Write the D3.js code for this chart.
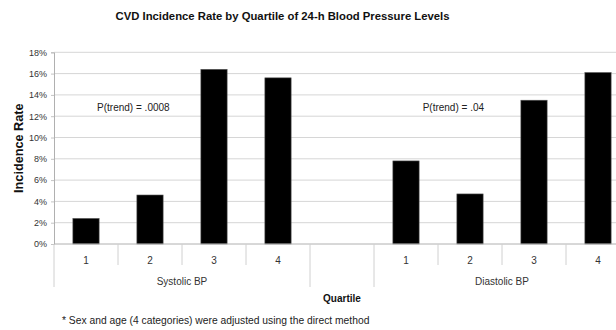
<!DOCTYPE html>
<html>
<head>
<meta charset="utf-8">
<script src="https://cdn.jsdelivr.net/npm/d3@7"></script>
<style>
  html, body { margin: 0; padding: 0; background: #fff; }
  svg { display: block; font-family: "Liberation Sans", Arial, sans-serif; }
</style>
</head>
<body>
<svg id="chart" width="616" height="330"></svg>
<script>
// Incidence rate (%) by quartile, per blood-pressure measure
const quartiles = ["1", "2", "3", "4"];
const groups = ["Systolic BP", "", "Diastolic BP"];
const systolic = [2.4, 4.6, 16.4, 15.6];
const diastolic = [7.8, 4.7, 13.5, 16.1];
const yTicks = [0, 2, 4, 6, 8, 10, 12, 14, 16, 18];
const trendLabels = ["P(trend) = .0008", "", "P(trend) = .04"];

const title = "CVD Incidence Rate by Quartile of 24-h Blood Pressure Levels";
const yTitle = "Incidence Rate";
const xTitle = "Quartile";
const footnote = "* Sex and age (4 categories) were adjusted using the direct method";

const svg = d3.select("#chart");
const plot = { left: 54, right: 630, top: 52.3, bottom: 244 };

// one slot per quartile, plus an empty spacer slot between the two measures
const slots = [];
groups.forEach((g, gi) => {
  if (g === "") slots.push({ key: "gap", group: gi, q: null, v: null });
  else {
    const vals = gi === 0 ? systolic : diastolic;
    quartiles.forEach((q, i) => slots.push({ key: g + "-" + q, group: gi, q, v: vals[i] }));
  }
});

const x = d3.scaleBand().domain(slots.map(d => d.key)).range([plot.left, plot.right]).padding(0);
const y = d3.scaleLinear().domain([0, 18]).range([plot.bottom, plot.top]);

// grid lines
svg.append("g")
  .selectAll("line").data(yTicks.slice(1)).join("line")
  .attr("x1", plot.left).attr("x2", 616)
  .attr("y1", d => y(d)).attr("y2", d => y(d))
  .attr("stroke", "#d6d6d6").attr("stroke-width", 1);

// y axis
const yAxis = svg.append("g").attr("transform", `translate(${plot.left},0)`)
  .call(d3.axisLeft(y).tickValues(yTicks).tickFormat(d => d + "%").tickSize(3).tickPadding(4));
yAxis.select(".domain").attr("stroke", "#b0b0b0");
yAxis.selectAll(".tick line").attr("stroke", "#c4c4c4");
yAxis.selectAll(".tick text").attr("font-size", 9).attr("fill", "#333")
  .attr("font-family", "Liberation Sans, Arial, sans-serif");

// bars
const barW = x.bandwidth() * 0.41;
svg.append("g")
  .selectAll("rect").data(slots.filter(d => d.v !== null)).join("rect")
  .attr("x", d => x(d.key) + (x.bandwidth() - barW) / 2)
  .attr("width", barW)
  .attr("y", d => y(d.v))
  .attr("height", d => y(0) - y(d.v))
  .attr("fill", "#000")
  .attr("stroke", "#555").attr("stroke-width", 0.6);

// x axis baseline
svg.append("line")
  .attr("x1", plot.left).attr("x2", 616).attr("y1", plot.bottom).attr("y2", plot.bottom)
  .attr("stroke", "#b0b0b0");

// category separators: short between quartiles, long at group edges
const bounds = slots.map((d, i) => ({ x: x(d.key), long: i === 0 || slots[i - 1].group !== d.group }));
bounds.push({ x: plot.right, long: true });
svg.append("g")
  .selectAll("line").data(bounds).join("line")
  .attr("x1", d => d.x).attr("x2", d => d.x)
  .attr("y1", plot.bottom).attr("y2", d => d.long ? 287 : 265)
  .attr("stroke", "#d0d0d0");

// quartile labels
svg.append("g")
  .selectAll("text").data(slots.filter(d => d.q !== null)).join("text")
  .attr("x", d => x(d.key) + x.bandwidth() / 2)
  .attr("y", 263.8)
  .attr("text-anchor", "middle").attr("font-size", 10).attr("fill", "#333")
  .text(d => d.q);

// group labels
const groupExtent = groups.map((g, gi) => {
  const s = slots.filter(d => d.group === gi);
  return { g, gi, x0: x(s[0].key), x1: x(s[s.length - 1].key) + x.bandwidth() };
});
svg.append("g")
  .selectAll("text").data(groupExtent.filter(d => d.g !== "")).join("text")
  .attr("x", d => (d.x0 + d.x1) / 2)
  .attr("y", 284.5)
  .attr("text-anchor", "middle").attr("font-size", 10).attr("fill", "#333")
  .text(d => d.g);

// trend annotations
svg.append("g")
  .selectAll("text").data(groupExtent.filter(d => trendLabels[d.gi] !== "")).join("text")
  .attr("x", d => d.x0 + x.bandwidth() * 1.24)
  .attr("y", y(12.8))
  .attr("dy", "0.35em")
  .attr("text-anchor", "middle").attr("font-size", 10).attr("fill", "#222")
  .text(d => trendLabels[d.gi]);

// titles
svg.append("text")
  .attr("x", 282.5).attr("y", 19.8)
  .attr("text-anchor", "middle").attr("font-size", 11.3).attr("font-weight", "bold").attr("fill", "#111")
  .text(title);

svg.append("text")
  .attr("transform", `translate(22.8,${(plot.top + plot.bottom) / 2}) rotate(-90)`)
  .attr("text-anchor", "middle").attr("font-size", 12.7).attr("font-weight", "bold").attr("fill", "#111")
  .text(yTitle);

svg.append("text")
  .attr("x", (plot.left + plot.right) / 2).attr("y", 301.6)
  .attr("text-anchor", "middle").attr("font-size", 10).attr("font-weight", "bold").attr("fill", "#111")
  .text(xTitle);

svg.append("text")
  .attr("x", 62).attr("y", 323.5)
  .attr("font-size", 10.3).attr("fill", "#222")
  .text(footnote);
</script>
</body>
</html>
